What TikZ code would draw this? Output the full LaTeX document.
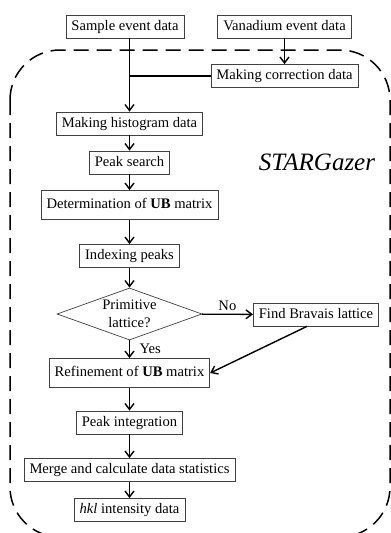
\documentclass[tikz,border=0pt]{standalone}
\usepackage{fontspec}
\setmainfont{Liberation Serif}
\usetikzlibrary{arrows.meta,shapes.geometric}

\begin{document}
\begin{tikzpicture}
      [x = 1pt, y = -1pt,
      font = \fontsize{14.6}{18}\selectfont,
      box/.style= {
         draw = black!75,
         line width = 0.7pt,
         inner xsep = 5.5pt,
         inner ysep = 0pt,
         text height = 10pt,
         text depth = 3pt,
         minimum height = 23pt
      },
      bigbox/.style= {
         box,
         minimum height = 29pt
      },
      decision/.style= {
         draw = black!75,
         line width = 0.7pt,
         diamond,
         aspect = 2.8,
         inner sep = 0pt,
         minimum width = 145pt,
         minimum height = 52pt,
         align = center
      },
      arrow/.style= {-{Straight Barb[length = 6pt, width = 9pt]}, line width = 1.4pt},
      link/.style= {line width = 1.4pt},
      frame/.style= {dash pattern = on 15pt off 8pt, line width = 1.5pt, rounded corners = 50pt}]

      \useasboundingbox (0, 0) rectangle (391, 533);
      \begin{scope}
         \clip (0, 0) rectangle (391, 533);
         \draw[frame] (10, 50) rectangle (390, 537);
      \end{scope}

      \node[box] (sample) at (125, 26.5) {Sample event data};
      \node[box] (vanadium) at (284.5, 26.5) {Vanadium event data};
      \node[box] (correction) at (284.5, 76) {Making correction data};
      \node[box] (histogram) at (129.5, 123.5) {Making histogram data};
      \node[box] (search) at (129.5, 162.5) {Peak search};
      \node[bigbox] (ubmatrix) at (129.5, 205) {Determination of \textbf{UB} matrix};
      \node[box] (indexing) at (129.5, 256) {Indexing peaks};
      \node[decision] (primitive) at (129.5, 314) {Primitive\\lattice?};
      \node[box] (bravais) at (316, 314.5) {Find Bravais lattice};
      \node[bigbox] (refine) at (129.5, 373) {Refinement of \textbf{UB} matrix};
      \node[box] (integration) at (129.5, 422.5) {Peak integration};
      \node[box] (merge) at (129.5, 470) {Merge and calculate data statistics};
      \node[box] (hkl) at (129.5, 510) {\textit{hkl} intensity data};
      \node (stargazer) at (317, 162) {\fontsize{25}{30}\selectfont\textit{STARGazer}};

      \draw[arrow] (sample.south -| histogram.north) -- (histogram.north);
      \draw[link] (correction.west) -- (correction.west -| histogram.north);
      \draw[arrow] (vanadium) -- (correction);
      \draw[arrow] (histogram) -- (search);
      \draw[arrow] (search) -- (ubmatrix);
      \draw[arrow] (ubmatrix) -- (indexing);
      \draw[arrow] (indexing) -- (primitive);
      \draw[arrow] (primitive) -- node[right, xshift = 6pt] {Yes} (refine);
      \draw[arrow] (primitive) -- node[above] {No} (bravais);
      \draw[arrow] ([xshift = -9pt]bravais.south) -- (refine.east);
      \draw[arrow] (refine) -- (integration);
      \draw[arrow] (integration) -- (merge);
      \draw[arrow] (merge) -- (hkl);

   \end{tikzpicture}
\end{document}
